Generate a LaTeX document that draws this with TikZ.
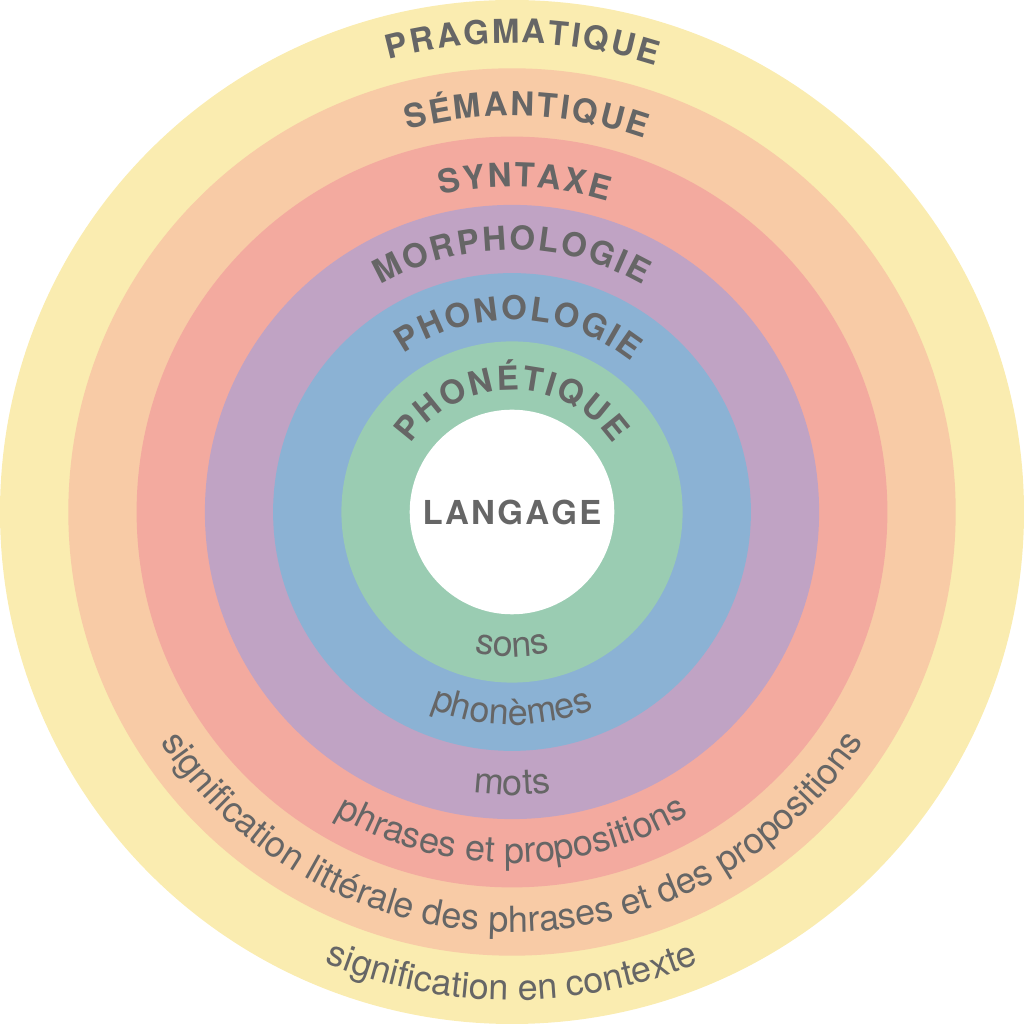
\documentclass[tikz,border=0pt]{standalone}
\usepackage{fontspec}
\setmainfont{TeX Gyre Heros}
\newfontfamily\lblfont[WordSpace=0.25]{TeX Gyre Heros}
\usetikzlibrary{decorations.text}
\definecolor{cyel}{RGB}{250,236,176}
\definecolor{cora}{RGB}{248,203,166}
\definecolor{cred}{RGB}{243,170,159}
\definecolor{cpur}{RGB}{192,163,196}
\definecolor{cblu}{RGB}{139,178,212}
\definecolor{cgrn}{RGB}{154,204,178}
\definecolor{txt}{RGB}{102,102,102}
\newcommand\topfmt{\lblfont\bfseries\fontsize{33}{38}\selectfont}
\newcommand\botfmt{\fontsize{36}{41}\selectfont}
\tikzset{
  ring/.style={fill=#1},
  toplbl/.style={decorate, decoration={text along path, text align=center, text color=txt, text={|\topfmt|#1}}},
  botlbl/.style={decorate, decoration={text along path, text align=center, text color=txt, text={|\botfmt|#1}}},
}
% #1 radius, #2 angular shift (deg, negative = to the right), #3 text
\newcommand\toparc[3]{\path[toplbl={#3}] (512pt,512pt) ++(180+#2:#1pt) arc[start angle=180+#2,end angle=#2,radius=#1pt];}
\newcommand\botarc[2]{\path[botlbl={#2}] (512pt-#1pt,512pt) arc[start angle=180,end angle=360,radius=#1pt];}
\begin{document}
\begin{tikzpicture}
\useasboundingbox (0,0) rectangle (1024pt,1024pt);
\coordinate (c) at (512pt,512pt);
\fill[ring=cyel] (c) circle[radius=512pt];
\fill[ring=cora] (c) circle[radius=443.7pt];
\fill[ring=cred] (c) circle[radius=375.4pt];
\fill[ring=cpur] (c) circle[radius=307.1pt];
\fill[ring=cblu] (c) circle[radius=238.9pt];
\fill[ring=cgrn] (c) circle[radius=170.6pt];
\fill[ring=white] (c) circle[radius=102.3pt];
\node[text=txt, font=\topfmt, inner sep=0pt] (lang) at (512pt,512pt) {L A N G A G E};
\toparc{469}{-1.3}{P R A G M A T I Q U E}
\toparc{396}{-2.1}{S É M A N T I Q U E}
\toparc{325}{-2.2}{S Y N T A X E}
\toparc{262}{0}{M O R P H O L O G I E}
\toparc{192}{-2}{P H O N O L O G I E}
\toparc{122}{0}{P H O N É T I Q U E}
\botarc{145}{sons}
\botarc{213}{phonèmes}
\botarc{283}{mots}
\botarc{351}{phrases et propositions}
\botarc{420}{signification littérale des phrases et des propositions}
\botarc{488}{signification en contexte}
\end{tikzpicture}
\end{document}
